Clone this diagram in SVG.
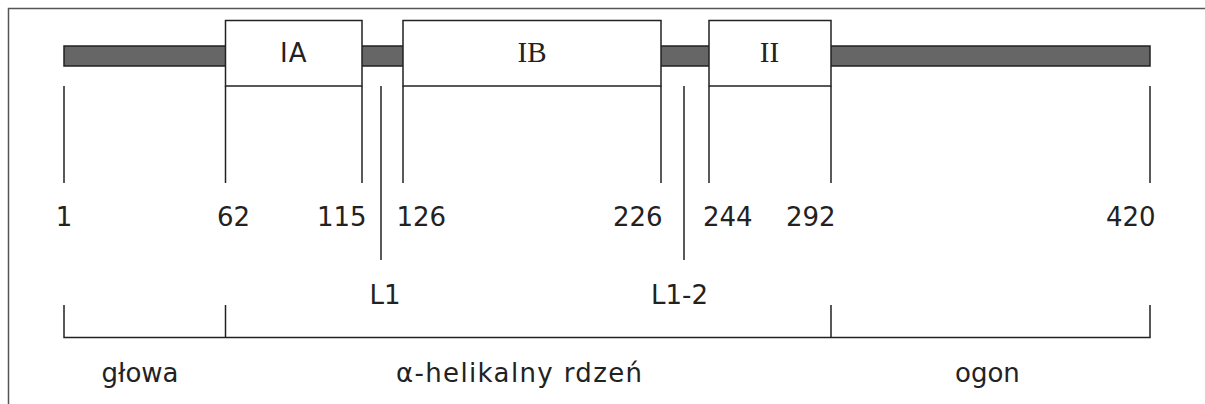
<svg xmlns="http://www.w3.org/2000/svg" width="1205" height="404" viewBox="0 0 1205 404">
<style>
.ln{stroke:#222;stroke-width:1.5;fill:none}
.box{fill:#fff;stroke:#222;stroke-width:1.5}
.bar{fill:#666;stroke:#222;stroke-width:1.5}
.t{font-family:"DejaVu Sans","Verdana",sans-serif;font-size:26px;fill:#222}
.s{font-family:"Liberation Serif","Times New Roman",serif;font-size:29px;fill:#222}
</style>
<rect width="1205" height="404" fill="#fff"/>
<path d="M8.5,404 V8.5 H1205" stroke="#555" stroke-width="1.5" fill="none"/>
<g id="bar">
<rect class="bar" x="64" y="46" width="1086" height="20"/>
</g>
<g id="connectors">
<line class="ln" x1="64" y1="86" x2="64" y2="183"/>
<line class="ln" x1="225.5" y1="86" x2="225.5" y2="183"/>
<line class="ln" x1="362" y1="86" x2="362" y2="183"/>
<line class="ln" x1="403" y1="86" x2="403" y2="183"/>
<line class="ln" x1="661" y1="86" x2="661" y2="183"/>
<line class="ln" x1="709" y1="86" x2="709" y2="183"/>
<line class="ln" x1="831" y1="86" x2="831" y2="183"/>
<line class="ln" x1="1150" y1="86" x2="1150" y2="183"/>
<line class="ln" x1="381" y1="86" x2="381" y2="260"/>
<line class="ln" x1="684" y1="86" x2="684" y2="260"/>
<path class="ln" d="M64,305 V337.5 H1150 V305 M225.5,305 V337.5 M831,305 V337.5"/>
</g>
<g id="IA">
<rect class="box" x="225.5" y="20.5" width="136.5" height="65.5"/>
<text class="t" x="293.75" y="62" text-anchor="middle" letter-spacing="1">IA</text>
</g>
<g id="IB">
<rect class="box" x="403" y="20.5" width="258" height="65.5"/>
<text class="s" x="532" y="62" text-anchor="middle">IB</text>
</g>
<g id="II">
<rect class="box" x="709" y="20.5" width="122" height="65.5"/>
<text class="s" x="769.5" y="62" text-anchor="middle">II</text>
</g>
<g id="numbers">
<text class="t" x="64" y="226" text-anchor="middle">1</text>
<text class="t" x="217" y="226">62</text>
<text class="t" x="317" y="226">115</text>
<text class="t" x="396.5" y="226">126</text>
<text class="t" x="613" y="226">226</text>
<text class="t" x="703" y="226">244</text>
<text class="t" x="786" y="226">292</text>
<text class="t" x="1106" y="226">420</text>
</g>
<g id="loops">
<text class="t" x="369.5" y="303.5">L1</text>
<text class="t" x="651" y="303.5">L1-2</text>
</g>
<g id="regions">
<text class="t" x="101.5" y="381.5">głowa</text>
<text class="t" x="396" y="381.5" textLength="246" lengthAdjust="spacing">α-helikalny rdzeń</text>
<text class="t" x="955" y="381.5">ogon</text>
</g>
</svg>
